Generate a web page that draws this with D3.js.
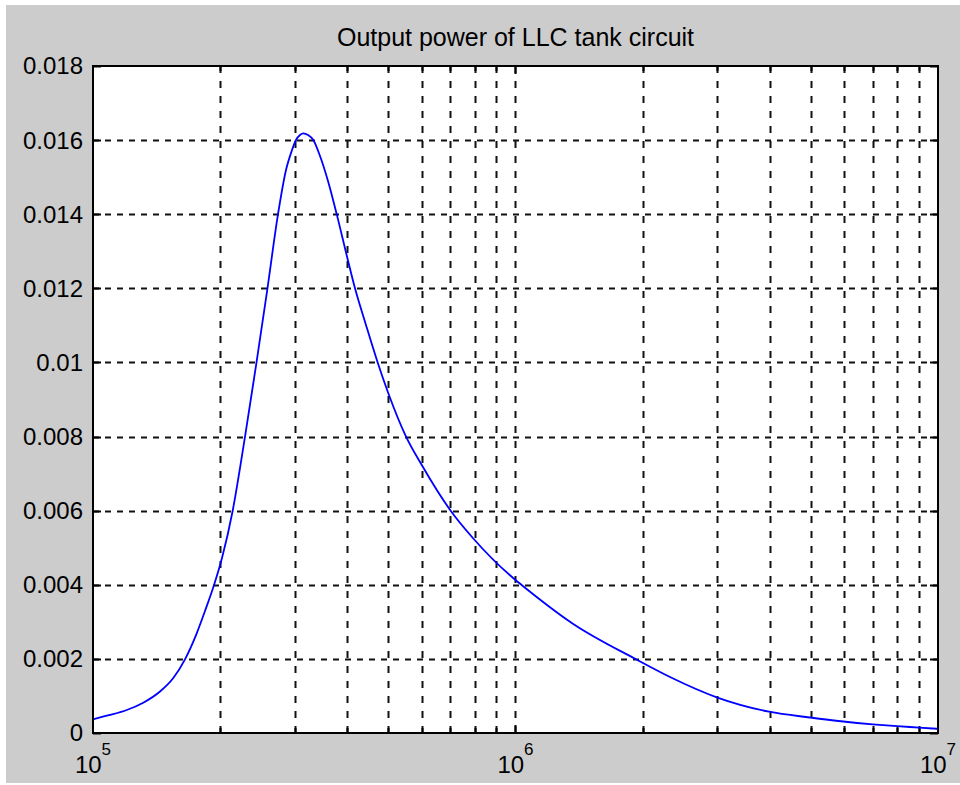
<!DOCTYPE html>
<html>
<head>
<meta charset="utf-8">
<script src="https://cdn.jsdelivr.net/npm/d3@7"></script>
<style>
  html, body { margin: 0; padding: 0; background: #ffffff; }
  svg { display: block; }
  text { font-family: "Liberation Sans", Arial, Helvetica, sans-serif; fill: #000; }
</style>
</head>
<body>
<svg id="chart" width="960" height="785"></svg>
<script>
// Output power of the LLC tank versus switching frequency (Hz)
const frequency = [
  1.00e5, 1.097e5, 1.202e5, 1.315e5, 1.441e5, 1.549e5, 1.651e5, 1.760e5, 1.841e5,
  1.934e5, 2.020e5, 2.141e5, 2.290e5, 2.438e5, 2.588e5, 2.741e5, 2.863e5, 2.953e5,
  3.023e5, 3.090e5, 3.146e5, 3.228e5, 3.322e5, 3.446e5, 3.599e5, 3.774e5, 4.000e5,
  4.170e5, 4.427e5, 4.718e5, 5.000e5, 5.507e5, 6.000e5, 7.023e5, 7.946e5, 1.000e6,
  1.034e6, 1.370e6, 1.929e6, 2.321e6, 2.994e6, 3.981e6, 4.978e6, 5.969e6, 7.004e6,
  8.000e6, 9.017e6, 1.000e7
];
const power = [
  0.000370, 0.000486, 0.000621, 0.000818, 0.00112, 0.001484, 0.001989, 0.00269, 0.003292,
  0.003994, 0.004723, 0.005999, 0.007999, 0.010001, 0.012001, 0.014003, 0.015193, 0.015706,
  0.016003, 0.016138, 0.016184, 0.016138, 0.016003, 0.015571, 0.014897, 0.014003, 0.012819,
  0.012001, 0.011011, 0.010001, 0.00917, 0.007999, 0.007232, 0.005999, 0.005249, 0.004129,
  0.003994, 0.002942, 0.001989, 0.001511, 0.000963, 0.000575, 0.000418, 0.000310, 0.000235,
  0.000184, 0.000146, 0.000113
];

const yTicks = [0, 0.002, 0.004, 0.006, 0.008, 0.01, 0.012, 0.014, 0.016, 0.018];
const yTickLabels = ["0", "0.002", "0.004", "0.006", "0.008", "0.01", "0.012", "0.014", "0.016", "0.018"];
const xDecades = [1e5, 1e6, 1e7];
const xDecadeExponents = ["5", "6", "7"];
const titleText = "Output power of LLC tank circuit";

const svg = d3.select("#chart");
const W = 960;
const plot = { left: 93, right: 938, top: 66, bottom: 733 };

// figure background
svg.append("rect").attr("x", 6).attr("y", 5).attr("width", W - 6).attr("height", 778)
  .attr("fill", "#cccccc");

const x = d3.scaleLog().domain([1e5, 1e7]).range([plot.left, plot.right]);
const y = d3.scaleLinear().domain([0, 0.018]).range([plot.bottom, plot.top]);

// axes area
svg.append("rect")
  .attr("x", plot.left).attr("y", plot.top)
  .attr("width", plot.right - plot.left).attr("height", plot.bottom - plot.top)
  .attr("fill", "#ffffff");

// log-scale grid positions: 2..9 in each decade plus the inner decade line
const minorX = [];
for (let d = 1e5; d < 1e7; d *= 10) {
  for (let k = 2; k <= 9; k++) minorX.push(d * k);
  if (d * 10 < 1e7) minorX.push(d * 10);
}

const grid = svg.append("g");
grid.selectAll("line.vx").data(minorX).join("line")
  .attr("class", "vx")
  .attr("x1", d => Math.round(x(d)) + 0.5).attr("x2", d => Math.round(x(d)) + 0.5)
  .attr("y1", plot.top).attr("y2", plot.bottom)
  .attr("stroke", "#111").attr("stroke-width", 2)
  .attr("stroke-dasharray", "7,8");

grid.selectAll("line.hy").data(yTicks.filter(v => v > 0 && v < 0.018)).join("line")
  .attr("class", "hy")
  .attr("x1", plot.left).attr("x2", plot.right)
  .attr("y1", d => Math.round(y(d)) + 0.5).attr("y2", d => Math.round(y(d)) + 0.5)
  .attr("stroke", "#111").attr("stroke-width", 2)
  .attr("stroke-dasharray", "6,6");

// tick marks inside the box
const ticks = svg.append("g").attr("stroke", "#000").attr("stroke-width", 2);
yTicks.forEach(v => {
  const yy = Math.round(y(v)) + 0.5;
  ticks.append("line").attr("x1", plot.left).attr("x2", plot.left + 8).attr("y1", yy).attr("y2", yy);
  ticks.append("line").attr("x1", plot.right - 8).attr("x2", plot.right).attr("y1", yy).attr("y2", yy);
});
minorX.forEach(f => {
  const xx = Math.round(x(f)) + 0.5;
  const len = xDecades.includes(f) ? 8 : 5;
  ticks.append("line").attr("x1", xx).attr("x2", xx).attr("y1", plot.bottom).attr("y2", plot.bottom - len);
  ticks.append("line").attr("x1", xx).attr("x2", xx).attr("y1", plot.top).attr("y2", plot.top + len);
});

// data curve
const line = d3.line()
  .x((d, i) => x(frequency[i]))
  .y(d => y(d))
  .curve(d3.curveMonotoneX);

svg.append("path")
  .datum(power)
  .attr("d", line)
  .attr("fill", "none")
  .attr("stroke", "#0000ff")
  .attr("stroke-width", 1.8)
  .attr("stroke-linejoin", "round");

// axes box
svg.append("rect")
  .attr("x", plot.left).attr("y", plot.top)
  .attr("width", plot.right - plot.left).attr("height", plot.bottom - plot.top)
  .attr("fill", "none").attr("stroke", "#000").attr("stroke-width", 2);

// y tick labels
svg.append("g").selectAll("text").data(yTicks).join("text")
  .attr("x", plot.left - 10)
  .attr("y", d => y(d))
  .attr("dy", "0.35em")
  .attr("text-anchor", "end")
  .attr("font-size", 24)
  .text((d, i) => yTickLabels[i]);

// x tick labels: 10^n
const xl = svg.append("g").selectAll("text").data(xDecades).join("text")
  .attr("x", d => x(d))
  .attr("y", 773)
  .attr("text-anchor", "middle")
  .attr("font-size", 24);
xl.append("tspan").text("10");
xl.append("tspan").attr("font-size", 17).attr("dy", -18).text((d, i) => xDecadeExponents[i]);

// title
svg.append("text")
  .attr("x", (plot.left + plot.right) / 2)
  .attr("y", 46)
  .attr("text-anchor", "middle")
  .attr("font-size", 25)
  .text(titleText);
</script>
</body>
</html>
